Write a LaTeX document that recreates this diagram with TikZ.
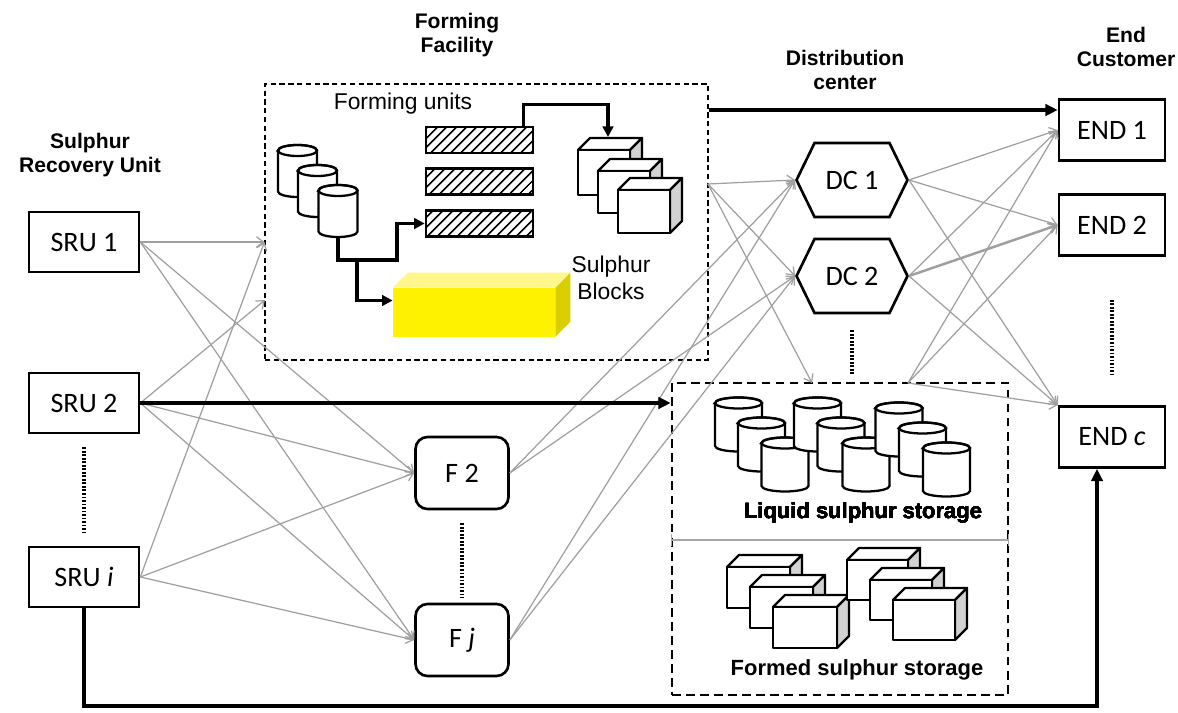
\documentclass[tikz,border=0pt]{standalone}
\usepackage{fontspec}
\setmainfont{Liberation Sans}
\newfontfamily\boxfont{Carlito}
\usetikzlibrary{arrows.meta,shapes.symbols,patterns.meta}

\definecolor{sulphur}{HTML}{FFF200}
\definecolor{sulphurtop}{HTML}{FFF68C}
\definecolor{sulphurside}{HTML}{D8CE00}

% 3d crate: front top-left corner (#1,#2), front width #3, front height #4
\newcommand{\crate}[4]{%
  \draw[line width=1.3pt, line join=round, fill=white] (#1,#2) -- ++(12,-12) -- ++(#3,0) -- ++(-12,12) -- cycle;
  \draw[line width=1.3pt, line join=round, fill=gray!35] (#1+#3,#2) -- ++(12,-12) -- ++(0,#4) -- ++(-12,12) -- cycle;
  \draw[line width=1.3pt, line join=round, fill=white] (#1,#2) rectangle ++(#3,#4);
}

% tank: centre x #1, centre of top ellipse y #2, width #3, body length #4
\newcommand{\tank}[4]{%
  \draw[line width=1.3pt, fill=white] (#1-#3/2,#2) -- (#1-#3/2,#2+#4)
    arc[start angle=180, end angle=360, x radius=#3*0.1mm, y radius=1.1mm] -- (#1+#3/2,#2)
    arc[start angle=0, end angle=180, x radius=#3*0.1mm, y radius=1.1mm] -- cycle;
  \draw[line width=1.3pt] (#1,#2) ellipse[x radius=#3*0.1mm, y radius=1.1mm];
}

\begin{document}
\begin{tikzpicture}[x=0.2mm, y=-0.2mm,
    title/.style={font=\fontsize{12}{14}\selectfont\bfseries, align=center},
    unit/.style={draw, line width=1.5pt, minimum width=22mm, minimum height=12mm, font=\boxfont\fontsize{16}{18}\selectfont},
    client/.style={unit, minimum width=21.2mm, minimum height=12.2mm},
    plant/.style={unit, rounded corners=2.4mm, minimum width=18.6mm, minimum height=14.4mm},
    hub/.style={signal, signal to=east and west, signal pointer angle=128, draw, line width=1.5pt,
      minimum width=22.2mm, minimum height=14.8mm, font=\boxfont\fontsize{16}{18}\selectfont},
    facility/.style={draw, dash pattern=on 3pt off 2pt, line width=0.6pt, minimum width=88.6mm, minimum height=55.2mm},
    depot/.style={draw, dash pattern=on 5pt off 3pt, line width=1.5pt, minimum width=67.2mm, minimum height=62.4mm},
    bar/.style={draw, line width=1.5pt, minimum width=21.4mm, minimum height=5.2mm,
      pattern={Lines[angle=45, distance=4pt, line width=1pt]}},
    block/.style={fill=sulphur, minimum width=32.4mm, minimum height=9.8mm},
    flow/.style={draw=gray!75, line width=0.7pt, -{Straight Barb[length=4pt, width=6pt]}},
    heavy/.style={line width=2.2pt, -{Triangle[length=7pt, width=6.5pt]}},
    feed/.style={line width=1.8pt, -{Triangle[length=6pt, width=6pt]}},
    dots/.style={line width=1.8pt, dash pattern=on 1pt off 1pt}]

    \useasboundingbox (0,0) rectangle (1178,713);

    % column titles
    \node (tsru) [title] at (90,155) {Sulphur\\Recovery Unit};
    \node (tff) [title] at (457,35) {Forming\\Facility};
    \node (tdc) [title] at (845,70) {Distribution\\center};
    \node (tend) [title] at (1126,47) {End\\Customer};

    % nodes
    \node (sru1) [unit] at (84,242) {SRU 1};
    \node (sru2) [unit] at (84,403) {SRU 2};
    \node (srui) [unit] at (84,577) {SRU \textit{i}};

    \node (ff) [facility] at (486.5,222) {};
    \node (f2) [plant] at (462,473) {F 2};
    \node (fj) [plant] at (462,640) {F \textit{j}};

    \node (dc1) [hub] at (852,180) {DC 1};
    \node (dc2) [hub] at (852,276) {DC 2};
    \node (store) [depot] at (840,539) {};

    \node (end1) [client] at (1112,130) {END 1};
    \node (end2) [client] at (1112,225) {END 2};
    \node (endc) [client] at (1112,437) {END \textit{c}};

    % ports on the two big boxes
    \coordinate (ffin1) at (ff.west |- sru1.east);
    \coordinate (ffin2) at (265,300);
    \coordinate (ffout) at (708,184);
    \coordinate (stin) at (812,383);
    \coordinate (stout) at (908,383);

    % gray flows
    \foreach \s in {sru1,sru2,srui} {
        \draw[flow] (\s.east) -- (f2.west);
        \draw[flow] (\s.east) -- (fj.west);
    }
    \draw[flow] (sru1.east) -- (ffin1);
    \draw[flow] (sru2.east) -- (ffin2);
    \draw[flow] (srui.east) -- (ffin1);
    \foreach \s in {f2,fj}
        \foreach \t in {dc1,dc2}
            \draw[flow] (\s.east) -- (\t.west);
    \foreach \t in {dc1.west,dc2.west,stin}
        \draw[flow] (ffout) -- (\t);
    \foreach \s in {dc1.east,dc2.east,stout} {
        \draw[flow] (\s) -- (end1.west);
        \draw[flow] (\s) -- (end2.west);
        \draw[flow] (\s) -- (endc.north west);
    }
    \draw[flow, line width=1.4pt] (dc2.east) -- (end2.west);

    % direct shipments
    \draw[heavy] (sru2.east) -- (sru2.east -| store.west);
    \draw[heavy] (ff.east |- 0,110) -- (end1.west |- 0,110);
    \draw[heavy] (srui.south) -- ++(0,98) -| ([xshift=-3mm]endc.south);

    % dotted continuations
    \draw[dots] ([yshift=-2.6mm]sru2.south) -- ([yshift=2.4mm]srui.north);
    \draw[dots] ([yshift=-2.6mm]f2.south) -- ([yshift=1mm]fj.north);
    \draw[dots] ([yshift=-3.2mm]dc2.south) -- ++(0,44);
    \draw[dots] ([yshift=-8.6mm]end2.south) -- ++(0,77);

    % forming facility inside
    \node (fu) at (403,104) {\fontsize{13}{15}\selectfont Forming units};
    \tank{297.5}{150.5}{39}{41}
    \tank{317.5}{170.5}{39}{41}
    \tank{338}{190.5}{39}{41}
    \node (u1) [bar] at (479.5,140) {};
    \node (u2) [bar] at (479.5,181.5) {};
    \node (u3) [bar] at (479.5,223.5) {};
    \crate{578}{150}{52}{45}
    \crate{598}{171}{52}{42}
    \crate{618}{190}{52}{43}

    \node (blk) [block] at (474,312.5) {};
    \fill[sulphurtop] (blk.north west) -- ++(15,-15) -- ++(162,0) -- ++(-15,15) -- cycle;
    \fill[sulphurside] (blk.north east) -- ++(15,-15) -- ++(0,49) -- ++(-15,15) -- cycle;
    \node (sb) at (611,278) [align=center, font=\fontsize{13}{15}\selectfont] {Sulphur\\Blocks};

    \coordinate (t3) at (338,237);
    \coordinate (bend) at (397,260);
    \coordinate (fork) at (357,260);
    \coordinate (cubetop) at (608,137);
    \draw[feed] (t3) |- (bend) |- (u3.west);
    \draw[feed] (fork) |- ([yshift=2.4mm]blk.west);
    \draw[feed] ([xshift=-2mm]u1.north east) -- ++(0,-22) -| (cubetop);

    % storage inside
    \foreach \x/\y in {738.5/403, 761.5/423, 785/443,
                       817.5/403, 841/423, 866/443,
                       899/408, 922.5/428, 946.5/448}
        \tank{\x}{\y}{47}{43}
    \node (liq) at (863,513) {\fontsize{12.5}{14}\selectfont\bfseries Liquid sulphur storage};
    \draw[gray!70, line width=1pt, |-|] (store.west |- 0,540) -- (store.east |- 0,540);
    \crate{727}{567}{63}{41}
    \crate{750}{587}{63}{41}
    \crate{773}{607}{64}{41}
    \crate{847}{560}{61}{40}
    \crate{870}{580}{62}{40}
    \crate{893}{600}{62}{40}
    \node (frm) at (857,670) {\fontsize{12.5}{14}\selectfont\bfseries Formed sulphur storage};

\end{tikzpicture}
\end{document}
